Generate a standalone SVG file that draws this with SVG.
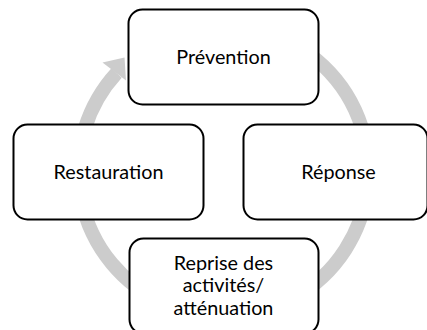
<svg xmlns="http://www.w3.org/2000/svg" width="427" height="330" viewBox="0 0 427 330">
  <style>
    .node rect { fill: #ffffff; stroke: #000000; stroke-width: 2; }
    .node text { font-family: Lato, "Open Sans", "Liberation Sans", sans-serif; font-size: 19.8px; fill: #000000; text-anchor: middle; }
    .ring { fill: none; stroke: #cccccc; stroke-width: 14; }
    .head { fill: #cccccc; }
  </style>
  <rect width="427" height="330" fill="#ffffff"/>
  <g id="connectors">
    <path class="ring" d="M 198.3 28.2 A 145 145 0 1 1 116.6 73.0"/>
    <polygon class="head" points="102.5,62.5 124.5,57.5 126,80.5"/>
  </g>
  <g id="prevention" class="node">
    <rect x="128.5" y="9.5" width="190" height="95" rx="14" ry="14"/>
    <text x="223.5" y="63.5">Prévention</text>
  </g>
  <g id="restauration" class="node">
    <rect x="13.5" y="124.5" width="190" height="95" rx="14" ry="14"/>
    <text x="108.5" y="178.5">Restauration</text>
  </g>
  <g id="reponse" class="node">
    <rect x="243.5" y="124.5" width="184" height="95" rx="14" ry="14"/>
    <text x="338.5" y="178.5">Réponse</text>
  </g>
  <g id="reprise" class="node">
    <rect x="129.5" y="238.5" width="189" height="95" rx="14" ry="14"/>
    <text x="223.5" y="269.5">Reprise des</text>
    <text x="223.5" y="292">activités/</text>
    <text x="223.5" y="314.5">atténuation</text>
  </g>
</svg>
